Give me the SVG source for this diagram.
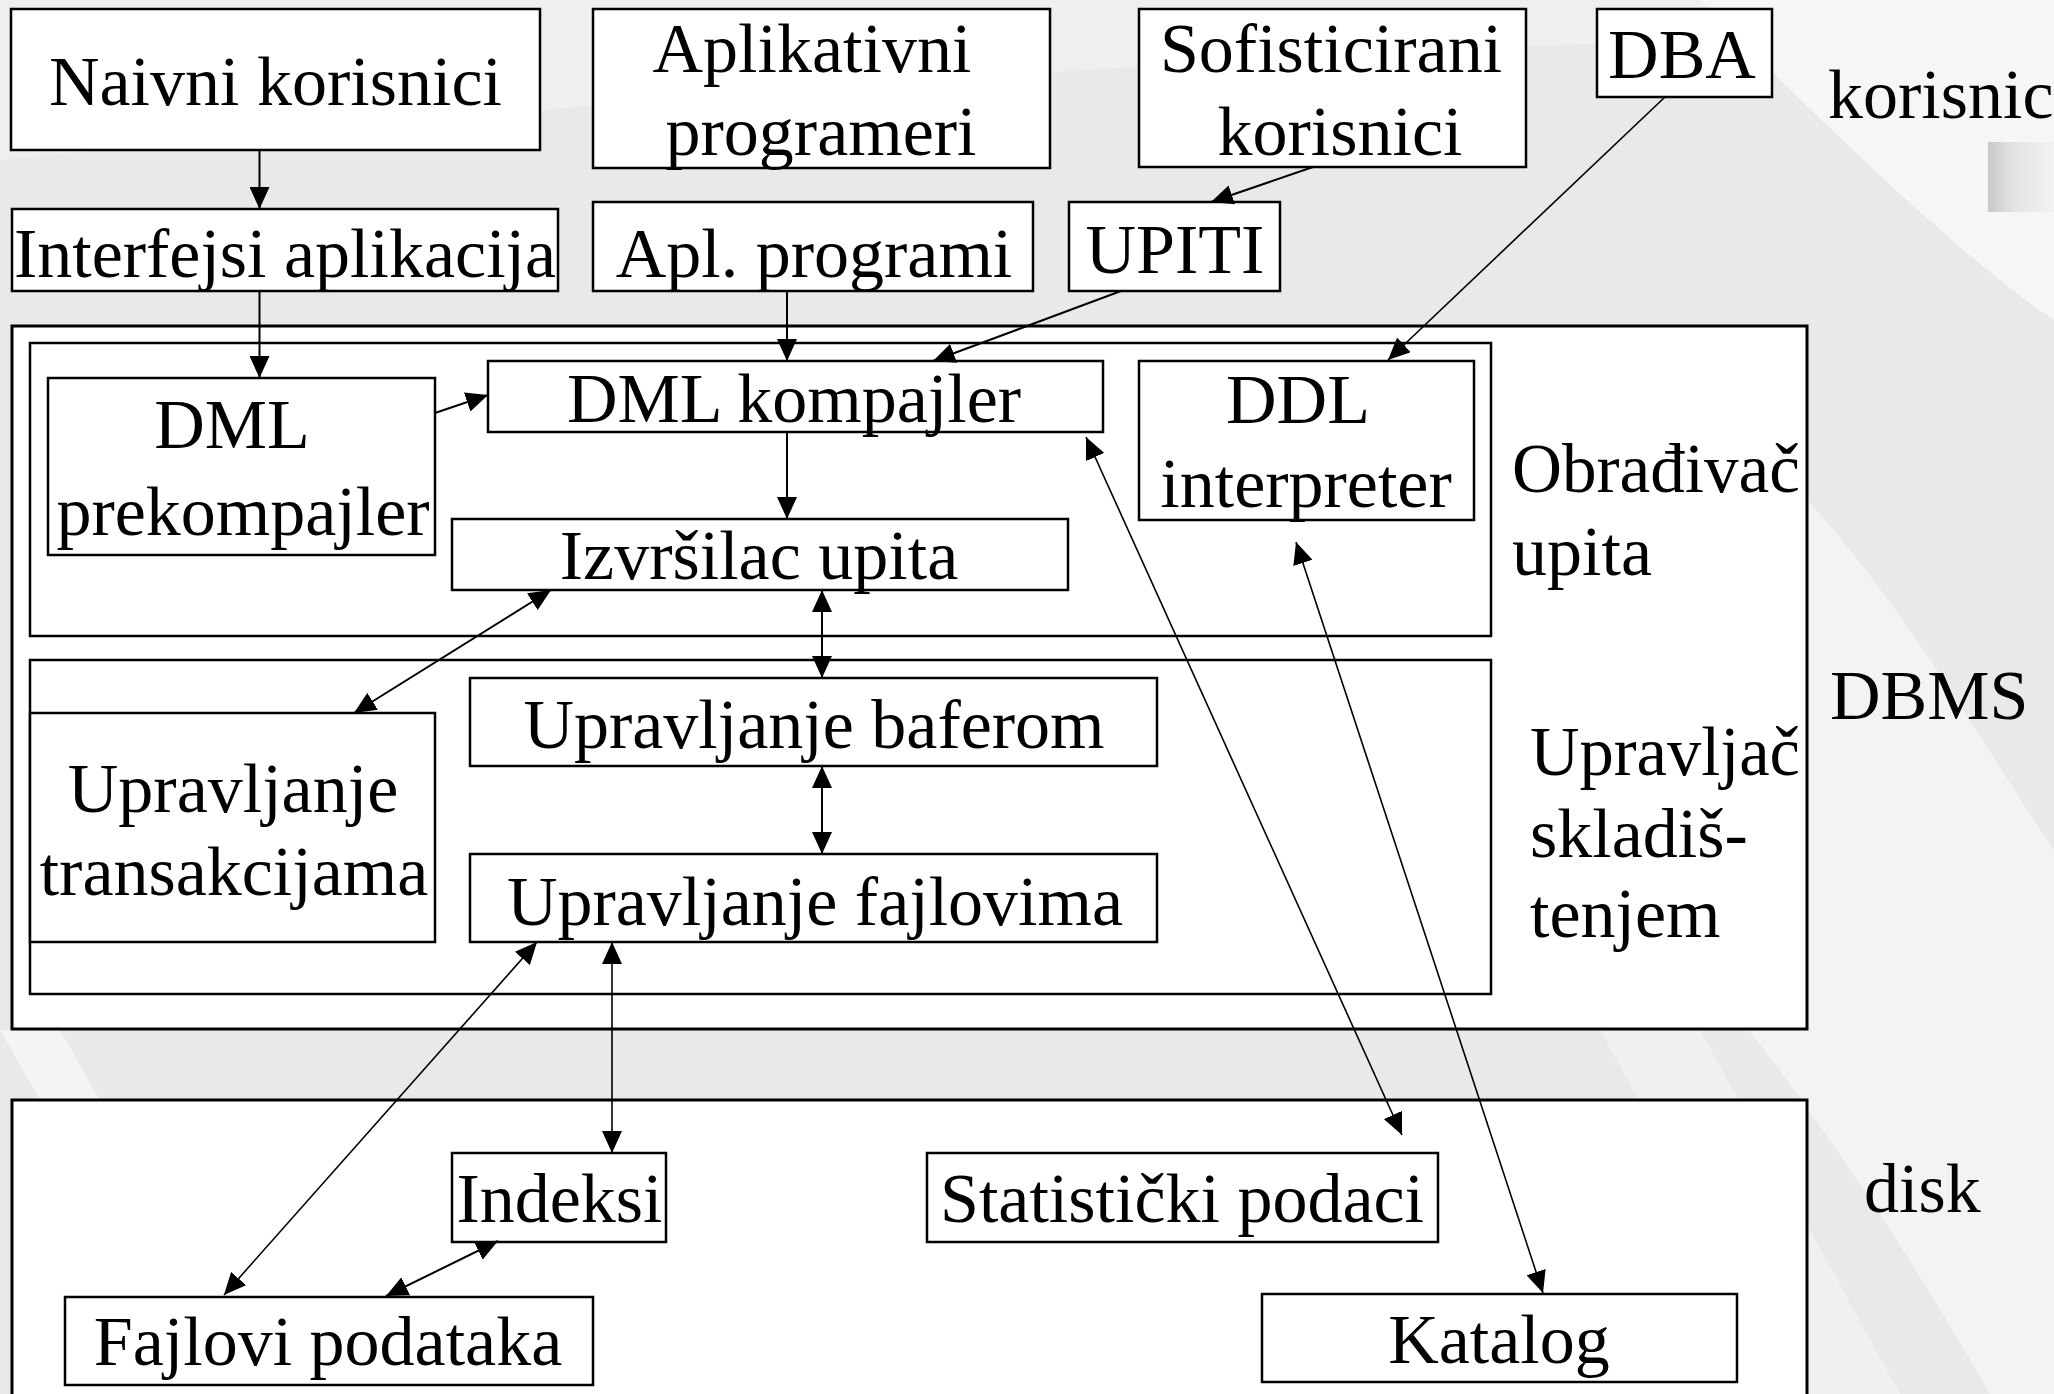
<svg xmlns="http://www.w3.org/2000/svg" width="2054" height="1394" viewBox="0 0 2054 1394">
<style>
.box{fill:#fff;stroke:#000;stroke-width:2.5}
.frame{fill:#fff;stroke:#000;stroke-width:3}
.t{font-family:"Liberation Serif","Times New Roman",serif;font-size:70px;fill:#000}
.c{text-anchor:middle}
.e{fill:none;stroke:#000;stroke-width:2}
.thin{fill:none;stroke:#000;stroke-width:1.6}
</style>
<defs>
<marker id="ah" viewBox="0 0 22 20" refX="22" refY="10" markerWidth="22" markerHeight="20" markerUnits="userSpaceOnUse" orient="auto-start-reverse">
<path d="M0,0 L22,10 L0,20 z" fill="#000"/>
</marker>
<linearGradient id="bar" x1="0" y1="0" x2="1" y2="0">
<stop offset="0" stop-color="#c8c8c8"/>
<stop offset="0.4" stop-color="#e4e4e4"/>
<stop offset="1" stop-color="#f2f2f2"/>
</linearGradient>
</defs>
<g id="background">
<rect x="0" y="0" width="2054" height="1394" fill="#e9e9e9"/>
<path d="M0,0 L2054,0 L2054,40 C1900,30 1200,40 0,160 Z" fill="#efefef"/>
<path d="M1700,0 L2054,0 L2054,320 C1950,250 1800,100 1700,0 Z" fill="#f6f6f6"/>
<path d="M1560,330 C1800,400 1950,700 2054,850 L2054,1394 L1990,1394 C1850,1150 1700,950 1560,820 Z" fill="#f3f3f3"/>
<path d="M1600,1030 L1700,1030 L1900,1394 L1800,1394 Z" fill="#f0f0f0"/>
<path d="M0,1030 L60,1030 L100,1100 L40,1100 Z" fill="#f4f4f4"/>
<rect x="1988" y="142" width="66" height="70" fill="url(#bar)"/>
</g>
<g id="frames">
<rect id="dbms" class="frame" x="12" y="326" width="1795" height="703"/>
<rect id="obradjivac" class="box" x="30" y="343" width="1461" height="293"/>
<rect id="upravljac" class="box" x="30" y="660" width="1461" height="334"/>
<rect id="disk" class="frame" x="12" y="1100" width="1795" height="310"/>
</g>
<g id="n-naivni"><rect class="box" x="11" y="9" width="529" height="141"/><text class="t c" x="275.5" y="105">Naivni korisnici</text></g>
<g id="n-aplikativni"><rect class="box" x="593" y="9" width="457" height="159"/><text class="t c" x="812" y="72">Aplikativni</text><text class="t c" x="821" y="155">programeri</text></g>
<g id="n-sofisticirani"><rect class="box" x="1139" y="9" width="387" height="158"/><text class="t c" x="1331" y="72">Sofisticirani</text><text class="t c" x="1340" y="155">korisnici</text></g>
<g id="n-dba"><rect class="box" x="1597" y="9" width="175" height="88"/><text class="t c" x="1682" y="78">DBA</text></g>
<g id="l-korisnici"><text class="t" x="1828" y="118">korisnic</text></g>
<g id="n-interfejsi"><rect class="box" x="12" y="209" width="546" height="82"/><text class="t c" x="285" y="277">Interfejsi aplikacija</text></g>
<g id="n-aplprog"><rect class="box" x="593" y="202" width="440" height="89"/><text class="t c" x="814" y="277">Apl. programi</text></g>
<g id="n-upiti"><rect class="box" x="1069" y="202" width="211" height="89"/><text class="t c" x="1175" y="273">UPITI</text></g>
<g id="n-dmlpre"><rect class="box" x="48" y="378" width="387" height="177"/><text class="t c" x="232" y="448">DML</text><text class="t c" x="243" y="535">prekompajler</text></g>
<g id="n-dmlkomp"><rect class="box" x="488" y="361" width="615" height="71"/><text class="t c" x="794" y="422">DML kompajler</text></g>
<g id="n-izvrsilac"><rect class="box" x="452" y="519" width="616" height="71"/><text class="t c" x="759" y="579">Izvršilac upita</text></g>
<g id="n-ddl"><rect class="box" x="1139" y="361" width="335" height="159"/><text class="t c" x="1298" y="423">DDL</text><text class="t c" x="1306" y="507">interpreter</text></g>
<g id="l-obradjivac"><text class="t" x="1512" y="492" textLength="288" lengthAdjust="spacingAndGlyphs">Obrađivač</text><text class="t" x="1512" y="575">upita</text></g>
<g id="l-dbms"><text class="t" x="1830" y="719">DBMS</text></g>
<g id="n-bafer"><rect class="box" x="470" y="678" width="687" height="88"/><text class="t c" x="814" y="748">Upravljanje baferom</text></g>
<g id="n-fajlovi"><rect class="box" x="470" y="854" width="687" height="88"/><text class="t c" x="815" y="925">Upravljanje fajlovima</text></g>
<g id="n-transakcije"><rect class="box" x="30" y="713" width="405" height="229"/><text class="t c" x="233" y="812">Upravljanje</text><text class="t c" x="234" y="895">transakcijama</text></g>
<g id="l-upravljac"><text class="t" x="1530" y="775" textLength="270" lengthAdjust="spacingAndGlyphs">Upravljač</text><text class="t" x="1530" y="857">skladiš-</text><text class="t" x="1530" y="937">tenjem</text></g>
<g id="n-indeksi"><rect class="box" x="452" y="1153" width="214" height="89"/><text class="t c" x="559.5" y="1222">Indeksi</text></g>
<g id="n-statisticki"><rect class="box" x="927" y="1153" width="511" height="89"/><text class="t c" x="1182" y="1222">Statistički podaci</text></g>
<g id="n-fajlovipod"><rect class="box" x="65" y="1297" width="528" height="88"/><text class="t c" x="328" y="1365">Fajlovi podataka</text></g>
<g id="n-katalog"><rect class="box" x="1262" y="1294" width="475" height="88"/><text class="t c" x="1499" y="1363">Katalog</text></g>
<g id="l-disk"><text class="t" x="1864" y="1212">disk</text></g>
<g id="connectors">
<line class="e" x1="259.5" y1="150" x2="259.5" y2="209" marker-end="url(#ah)"/>
<line class="e" x1="259.5" y1="291" x2="259.5" y2="378" marker-end="url(#ah)"/>
<line class="e" x1="787" y1="291" x2="787" y2="361" marker-end="url(#ah)"/>
<line class="e" x1="1121" y1="291" x2="933" y2="361" marker-end="url(#ah)"/>
<line class="e" x1="1313" y1="167" x2="1211" y2="202" marker-end="url(#ah)"/>
<line class="thin" x1="1665" y1="97" x2="1388" y2="360" marker-end="url(#ah)"/>
<line class="e" x1="435" y1="413" x2="488" y2="395" marker-end="url(#ah)"/>
<line class="e" x1="787" y1="432" x2="787" y2="519" marker-end="url(#ah)"/>
<line class="e" x1="551" y1="590" x2="354" y2="713" marker-start="url(#ah)" marker-end="url(#ah)"/>
<line class="e" x1="822" y1="590" x2="822" y2="678" marker-start="url(#ah)" marker-end="url(#ah)"/>
<line class="e" x1="822" y1="766" x2="822" y2="854" marker-start="url(#ah)" marker-end="url(#ah)"/>
<line class="thin" x1="537" y1="942" x2="224" y2="1295" marker-start="url(#ah)" marker-end="url(#ah)"/>
<line class="thin" x1="612" y1="942" x2="612" y2="1153" marker-start="url(#ah)" marker-end="url(#ah)"/>
<line class="e" x1="498" y1="1241" x2="386" y2="1296" marker-start="url(#ah)" marker-end="url(#ah)"/>
<line class="thin" x1="1086" y1="437" x2="1402" y2="1135" marker-start="url(#ah)" marker-end="url(#ah)"/>
<line class="thin" x1="1296" y1="542" x2="1543" y2="1293" marker-start="url(#ah)" marker-end="url(#ah)"/>
</g>
</svg>
